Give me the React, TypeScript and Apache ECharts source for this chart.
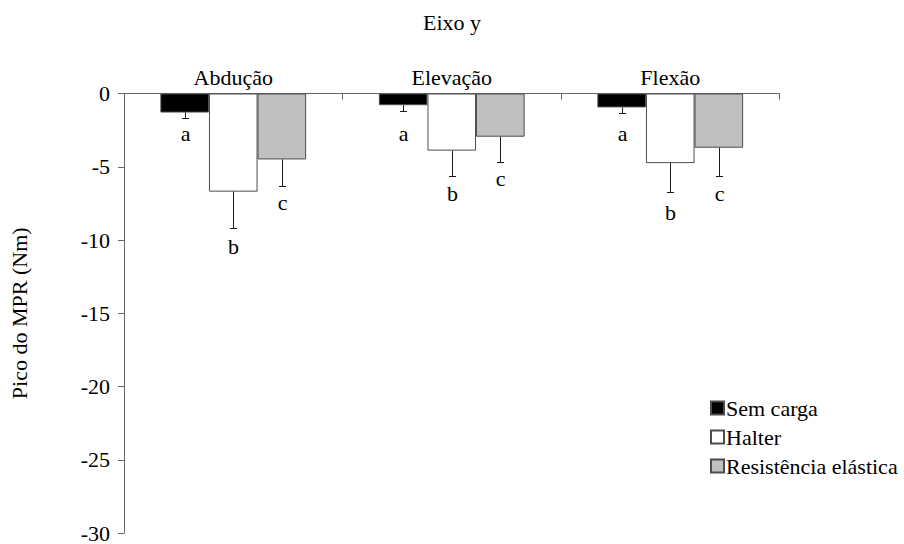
import React, { useEffect, useRef } from "react";
import * as echarts from "echarts";

const categories = ["Abdução", "Elevação", "Flexão"];
const seriesNames = ["Sem carga", "Halter", "Resistência elástica"];
const semCarga = [-1.3, -0.8, -0.95];
const halter = [-6.7, -3.9, -4.75];
const resistencia = [-4.5, -2.95, -3.7];
const semCargaSD = [0.4, 0.4, 0.35];
const halterSD = [2.45, 1.75, 2.0];
const resistenciaSD = [1.8, 1.7, 1.95];
const semCargaLetters = ["a", "a", "a"];
const halterLetters = ["b", "b", "b"];
const resistenciaLetters = ["c", "c", "c"];
const semCargaLetterPos = [-2.7, -2.7, -2.7];
const halterLetterPos = [-10.45, -6.8, -8.15];
const resistenciaLetterPos = [-7.45, -5.8, -6.8];
const yTicks = [0, -5, -10, -15, -20, -25, -30];

const FONT = "Times New Roman, Liberation Serif, serif";
const GAP = 1 / 3;

export default function App() {
  const ref = useRef<HTMLDivElement>(null);
  useEffect(() => {
    if (!ref.current) return;
    const chart = echarts.init(ref.current, undefined, { renderer: "svg" });
    const groups = [
      { name: seriesNames[0], vals: semCarga, sd: semCargaSD, letters: semCargaLetters, pos: semCargaLetterPos, color: "#000000" },
      { name: seriesNames[1], vals: halter, sd: halterSD, letters: halterLetters, pos: halterLetterPos, color: "#ffffff" },
      { name: seriesNames[2], vals: resistencia, sd: resistenciaSD, letters: resistenciaLetters, pos: resistenciaLetterPos, color: "#c0c0c0" },
    ];
    const barSeries = groups.map((g) => ({
      name: g.name,
      type: "bar",
      data: g.vals,
      barGap: "0%",
      barCategoryGap: "33.3%",
      itemStyle: { color: g.color, borderColor: "#4d4d4d", borderWidth: 1 },
    }));
    const errSeries = groups.map((g, gi) => ({
      type: "custom",
      name: g.name + "-err",
      silent: true,
      z: 5,
      encode: { x: 0, y: [1, 2, 3] },
      data: g.vals.map((v, i) => [i, v, v - g.sd[i], g.pos[i]]),
      renderItem: (params: any, api: any) => {
        const ci = api.value(0);
        const mean = api.value(1);
        const end = api.value(2);
        const lp = api.value(3);
        const catW = api.size([1, 0])[0];
        const barW = (catW * (1 - GAP)) / 3;
        const p0 = api.coord([ci, mean]);
        const p1 = api.coord([ci, end]);
        const pl = api.coord([ci, lp]);
        const x = Math.round(p0[0] + (gi - 1) * barW) + 0.5;
        const y1 = Math.round(p1[1]) + 0.5;
        return {
          type: "group",
          children: [
            { type: "line", shape: { x1: x, y1: p0[1], x2: x, y2: y1 }, style: { stroke: "#1a1a1a", lineWidth: 1 } },
            { type: "line", shape: { x1: x - 3.5, y1: y1, x2: x + 3.5, y2: y1 }, style: { stroke: "#1a1a1a", lineWidth: 1 } },
            {
              type: "text",
              x: x,
              y: pl[1],
              style: { text: g.letters[params.dataIndex], fontSize: 22, fontFamily: FONT, fill: "#000", align: "center", verticalAlign: "middle" },
            },
          ],
        };
      },
    }));
    chart.setOption({
      animation: false,
      backgroundColor: "#ffffff",
      textStyle: { fontFamily: FONT },
      title: {
        text: "Eixo y",
        left: "center",
        top: 11,
        padding: 0,
        textStyle: { fontSize: 22, fontWeight: "normal", color: "#000", fontFamily: FONT },
      },
      legend: {
        data: seriesNames,
        orient: "vertical",
        left: 705,
        top: 392,
        itemWidth: 13,
        itemHeight: 13,
        itemGap: 7,
        icon: "rect",
        textStyle: { fontSize: 22, color: "#000", fontFamily: FONT, padding: [0, 0, 0, -3] },
      },
      grid: { left: 117.5, right: 124.5, top: 93.5, bottom: 10, containLabel: false },
      xAxis: {
        type: "category",
        data: categories,
        position: "top",
        axisLine: { lineStyle: { color: "#666", width: 1 } },
        axisTick: { show: true, inside: true, length: 6, lineStyle: { color: "#666" } },
        axisLabel: { fontSize: 22, color: "#000", fontFamily: FONT, margin: 5 },
        splitLine: { show: false },
      },
      yAxis: {
        type: "value",
        min: -30,
        max: 0,
        interval: 5,
        name: "Pico do MPR (Nm)",
        nameLocation: "middle",
        nameRotate: 90,
        nameGap: 94,
        nameTextStyle: { fontSize: 22, color: "#000", fontFamily: FONT },
        axisLine: { show: true, lineStyle: { color: "#666", width: 1 } },
        axisTick: { show: true, inside: false, length: 6, lineStyle: { color: "#666" } },
        axisLabel: {
          fontSize: 22,
          color: "#000",
          fontFamily: FONT,
          margin: 14,
          formatter: (v: number) => (yTicks.includes(v) ? String(v) : ""),
        },
        splitLine: { show: false },
      },
      series: [...barSeries, ...errSeries],
    });
    return () => chart.dispose();
  }, []);
  return <div ref={ref} style={{ width: 904, height: 544, position: "absolute", left: 0, top: 0 }} />;
}
